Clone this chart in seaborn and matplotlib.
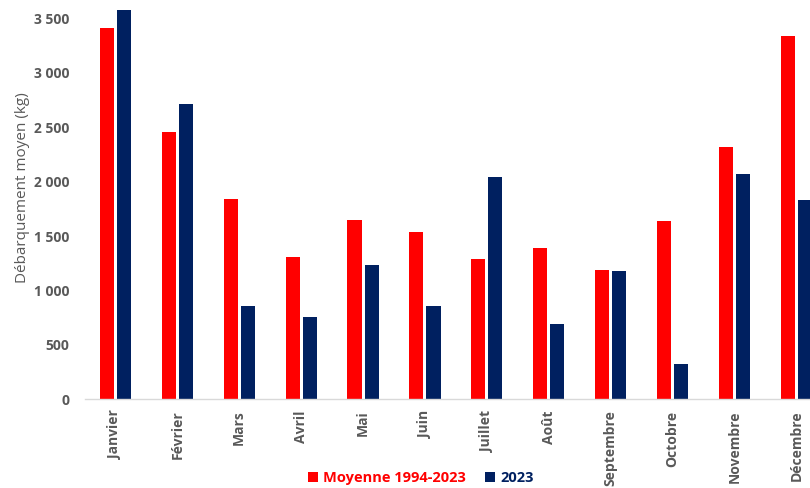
import matplotlib
matplotlib.use("Agg")
import matplotlib.pyplot as plt
import seaborn as sns
import pandas as pd
from matplotlib.ticker import FuncFormatter
from matplotlib.patches import Patch

months = ["Janvier", "Février", "Mars", "Avril", "Mai", "Juin", "Juillet",
          "Août", "Septembre", "Octobre", "Novembre", "Décembre"]
moyenne = [3410, 2455, 1840, 1310, 1645, 1540, 1285, 1390, 1190, 1635, 2318, 3337]
annee_2023 = [3580, 2710, 860, 755, 1230, 855, 2040, 690, 1178, 325, 2073, 1828]
series_names = ["Moyenne 1994-2023", "2023"]
colors = ["#FF0000", "#002060"]
yticks = [0, 500, 1000, 1500, 2000, 2500, 3000, 3500]

df = pd.DataFrame({
    "Mois": months * 2,
    "Valeur": moyenne + annee_2023,
    "Série": [series_names[0]] * 12 + [series_names[1]] * 12,
})

sns.set_theme(style="white")
plt.rcParams["font.family"] = ["Open Sans", "DejaVu Sans"]

fig = plt.figure(figsize=(8.1, 4.88), dpi=100)
W, H = 810, 488
x0, y0 = 84.5, 399.3
px_per_cat = 61.9
xr = x0 + 12 * px_per_cat
ymax = 3668
ax = fig.add_axes([x0 / W, (H - y0) / H, (xr - x0) / W, (y0 - 0) / H])

sns.barplot(data=df, x="Mois", y="Valeur", hue="Série", order=months,
            hue_order=series_names, palette=colors, width=0.554, gap=0.18,
            saturation=1, ax=ax, legend=False, linewidth=0, errorbar=None)

ax.set_xlim(-0.5, 11.5)
ax.set_ylim(0, ymax)
ax.set_yticks(yticks)
ax.yaxis.set_major_formatter(FuncFormatter(lambda v, p: f"{int(v):,}".replace(",", " ")))
for s in ["top", "right", "left"]:
    ax.spines[s].set_visible(False)
ax.spines["bottom"].set_color("#D9D9D9")
ax.spines["bottom"].set_linewidth(1.0)
ax.tick_params(axis="both", length=0)
ax.tick_params(axis="y", pad=11)
ax.tick_params(axis="x", pad=8)
for lab in ax.get_yticklabels():
    lab.set_fontweight("bold")
    lab.set_color("#595959")
    lab.set_fontsize(10)
for lab in ax.get_xticklabels():
    lab.set_rotation(90)
    lab.set_fontweight("bold")
    lab.set_color("#595959")
    lab.set_fontsize(10)
    lab.set_va("top")
    lab.set_ha("center")
ax.set_xlabel("")
ax.set_ylabel("Débarquement moyen (kg)", color="#595959", fontsize=11, labelpad=10)
ax.yaxis.set_label_coords(-0.073, 0.53)

handles = [Patch(facecolor=c, edgecolor="none") for c in colors]
leg = fig.legend(handles, series_names, loc="center", bbox_to_anchor=(421 / W, 1 - 478 / H),
                 ncol=2, frameon=False, handlelength=0.7, handleheight=0.7,
                 handletextpad=0.35, columnspacing=1.3,
                 prop={"weight": "bold", "size": 10.5})
for t, c in zip(leg.get_texts(), colors):
    t.set_color(c)

fig.savefig("out.png", dpi=100)
